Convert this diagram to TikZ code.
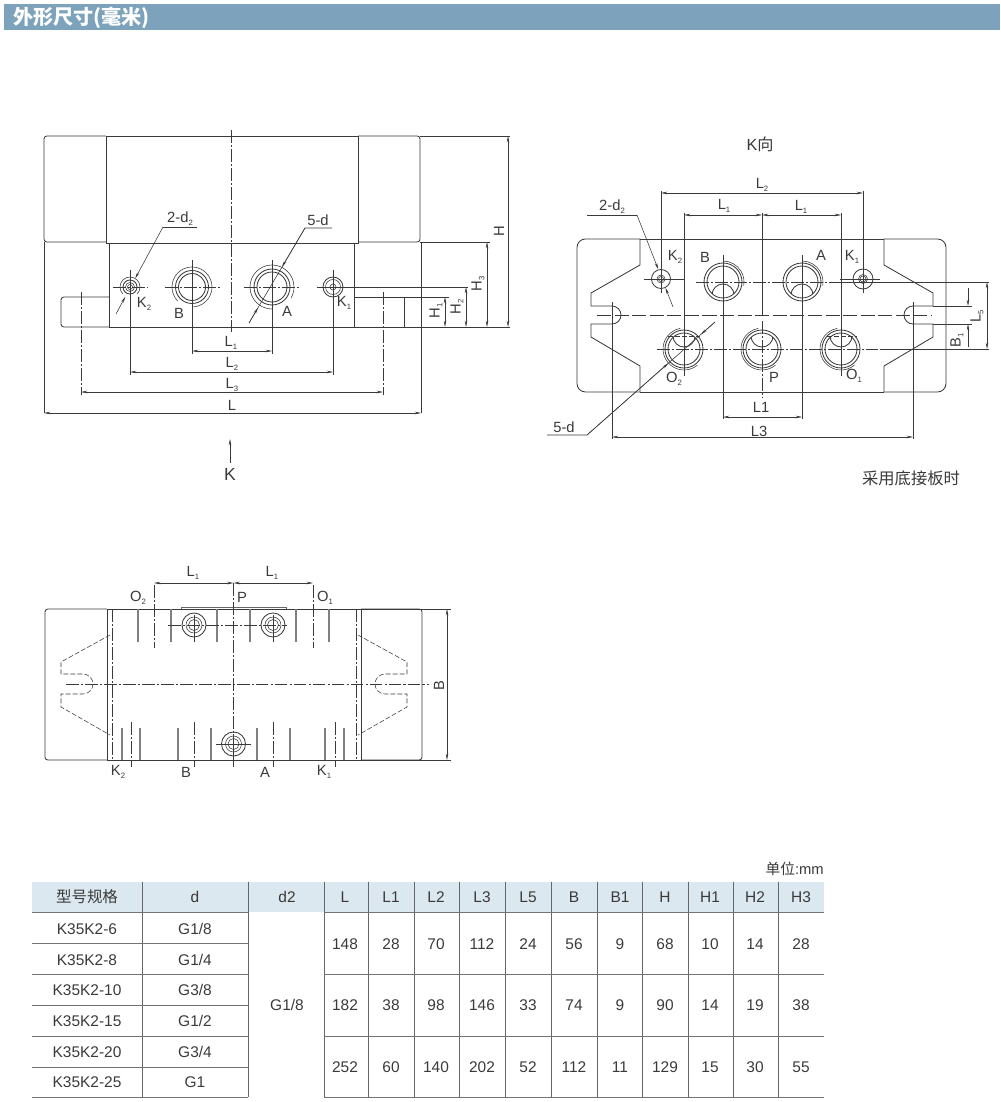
\documentclass[tikz,border=0pt]{standalone}
\usepackage{fontspec}
\setmainfont{Liberation Sans}
\newfontfamily\cjk{Noto Sans CJK SC}
\usetikzlibrary{arrows.meta, calc}
\definecolor{band}{HTML}{7CA3BB}
\definecolor{headfill}{HTML}{DCE8F0}
\definecolor{ink}{HTML}{3A3A3A}
\tikzset{line/.style={ink, line width=.6pt}}
\tikzset{heavy/.style={ink, line width=.7pt}}
\tikzset{thinline/.style={ink, line width=.4pt}}
\tikzset{center/.style={ink, line width=.4pt, dash pattern=on 9pt off 1.5pt on 1.5pt off 1.5pt}}
\tikzset{longdash/.style={ink, line width=.5pt, dash pattern=on 10pt off 2.5pt}}
\tikzset{hidden/.style={ink, line width=.4pt, dash pattern=on 3.5pt off 1.5pt}}
\tikzset{stick/.style={black!50, line width=1.6pt}}
\tikzset{dimline/.style={ink, line width=.4pt, {Stealth[length=4.5pt,width=1.8pt]}-{Stealth[length=4.5pt,width=1.8pt]}}}
\tikzset{pointer/.style={ink, line width=.4pt, -{Stealth[length=4.5pt,width=1.8pt]}}}
\tikzset{lab/.style={inner sep=0pt, font=\fontsize{10.5}{12}\selectfont, text=ink}}
\tikzset{cell/.style={inner sep=0pt, font=\fontsize{11}{13}\selectfont, text=ink}}
\newcommand{\lsub}[2]{#1\raisebox{-.35ex}{\fontsize{5.5}{7}\selectfont #2}}
\newcommand{\drawport}[6]{\draw[line] (#1,#2) circle[radius=#4]; \draw[line] (#1,#2) circle[radius=#4-3]; \draw[thinline] (#1,#2) ++(#5:#3) arc[start angle=#5, end angle=#6, radius=#3]}
\newcommand{\drawsmall}[5]{\draw[line] (#1,#2) circle[radius=#3]; \draw[thinline] (#1,#2) circle[radius=#4]; \draw[thinline] (#1,#2) circle[radius=#5]}
\newcommand{\capdown}[2]{\begin{scope} \clip (#1,#2) circle[radius=16]; \draw[line] (#1,#2+13) circle[radius=11]; \end{scope}}
\newcommand{\capup}[2]{\begin{scope} \clip (#1,#2) circle[radius=16]; \draw[line] (#1,#2-13) circle[radius=11]; \end{scope}}

\begin{document}
\begin{tikzpicture}[x=.025cm, y=-.025cm]
	\useasboundingbox (0,0) rectangle (1000,1102);

	% Title band
	\fill[band] (4,4) rectangle (1000,30);
	\node[anchor=west, inner sep=0pt, text=white, font=\cjk\bfseries\fontsize{14.3}{16}\selectfont] (title) at (13,18) {外形尺寸(毫米)};

	% Front view
	\draw[line, rounded corners=2pt] (106,136) -- (44,136) -- (44,242) -- (106,242);
	\draw[line, rounded corners=2pt] (358,136) -- (420,136) -- (420,242) -- (358,242);
	\draw[heavy] (106,136) rectangle (358,243);
	\draw[line] (44,242) -- (44,413);
	\draw[line] (420,242) -- (421,242) -- (421,413);
	\draw[line] (109,243) -- (109,327) -- (354,327) -- (354,243);
	\draw[line, rounded corners=2pt] (109,297) -- (61,297) -- (61,327) -- (109,327);
	\draw[line] (354,297) -- (404,297) -- (404,327);
	\draw[thinline] (404,297) -- (449,297);
	\draw[thinline] (354,327) -- (510,327);
	\draw[center] (231,130) -- (231,333);
	\draw[center] (81,292) -- (81,395);
	\draw[center] (383,292) -- (383,395);

	% Front ports
	\drawsmall{130}{287}{7}{4.5}{2.5};
	\draw[thinline] (130,287) ++(135:10) arc[start angle=135, end angle=405, radius=10];
	\drawport{192}{287}{20}{16.5}{135}{450};
	\drawport{272}{287}{22}{18}{90}{390};
	\drawsmall{333}{287}{10}{7.5}{3};
	\draw[center] (113,287) -- (147,287);
	\draw[center] (165,287) -- (220,287);
	\draw[center] (244,287) -- (299,287);
	\draw[thinline] (317,287) -- (468,287);
	\draw[thinline] (130,270) -- (130,375);
	\draw[thinline] (192,260) -- (192,354);
	\draw[thinline] (272,260) -- (272,354);
	\draw[thinline] (333,270) -- (333,375);

	% Front dimensions
	\draw[dimline] (192,351) -- (272,351);
	\draw[dimline] (130,372) -- (333,372);
	\draw[dimline] (81,392) -- (383,392);
	\draw[dimline] (44,413) -- (421,413);
	\draw[thinline] (420,136) -- (510,136);
	\draw[thinline] (421,242) -- (490,242);
	\draw[dimline] (508,136) -- (508,327);
	\draw[dimline] (487,242) -- (487,327);
	\draw[dimline] (466,287) -- (466,327);
	\draw[dimline] (445,297) -- (445,327);
	\node[lab] (fL1) at (231,343) {\lsub{L}{1}};
	\node[lab] (fL2) at (232,364) {\lsub{L}{2}};
	\node[lab] (fL3) at (232,385) {\lsub{L}{3}};
	\node[lab] (fL) at (232,405) {L};
	\node[lab, rotate=90] (fH) at (499,231) {H};
	\node[lab, rotate=90] (fH3) at (478,284) {\lsub{H}{3}};
	\node[lab, rotate=90] (fH2) at (457,307) {\lsub{H}{2}};
	\node[lab, rotate=90] (fH1) at (436,311) {\lsub{H}{1}};
	\node[lab] (fK2) at (144,304) {\lsub{K}{2}};
	\node[lab] (fB) at (179,313) {B};
	\node[lab] (fA) at (287,311) {A};
	\node[lab] (fK1) at (344,303) {\lsub{K}{1}};

	% Front leaders
	\coordinate (Da) at (163,227); \coordinate (Db) at (116,314);
	\coordinate (Ea) at (305,228); \coordinate (Eb) at (249,323);
	\draw[thinline] (197,227) -- (Da);
	\draw[pointer] (Da) -- ($(Da)!.59!(Db)$);
	\draw[pointer] (Db) -- ($(Da)!.8!(Db)$);
	\draw[thinline] (332,228) -- (Ea) -- (Eb);
	\draw[pointer] (Ea) -- ($(Ea)!.41!(Eb)$);
	\draw[pointer] (Eb) -- ($(Ea)!.84!(Eb)$);
	\node[lab] (fD2) at (180,219) {2-\lsub{d}{2}};
	\node[lab] (fD) at (318,220) {5-d};

	% K arrow
	\coordinate (Ka) at (230,463); \coordinate (Kb) at (230,439);
	\draw[pointer] (Ka) -- (Kb);
	\node[lab, font=\fontsize{12.5}{14}\selectfont] (kK) at (230,474) {K};

	% K view outline
	\node[lab, font=\fontsize{11.5}{13}\selectfont] (kHead) at (760,144) {K{\cjk 向}};
	\draw[line, rounded corners=6pt] (640,239) -- (577,239) -- (577,392) -- (640,392);
	\draw[line, rounded corners=6pt] (884,239) -- (946,239) -- (946,392) -- (884,392);
	\draw[heavy] (640,239) -- (884,239);
	\draw[heavy] (640,392) -- (884,392);
	\draw[line] (640,239) -- (640,265) -- (591,293) -- (591,306) -- (612,306) arc[start angle=-90, end angle=90, radius=9] -- (591,324) -- (591,337) -- (640,366) -- (640,392);
	\draw[line] (884,239) -- (884,265) -- (933,293) -- (933,306) -- (913,306) arc[start angle=270, end angle=90, radius=9] -- (933,324) -- (933,337) -- (884,366) -- (884,392);

	% K view ports
	\drawsmall{661}{279}{9.5}{4}{2.5};
	\drawsmall{863}{279}{10}{4.5}{3};
	\drawport{723}{282}{21}{19}{270}{370};
	\drawport{802}{282}{21}{19}{270}{370};
	\drawport{684}{349}{21}{19}{50}{260};
	\drawport{762}{349}{21}{19}{50}{260};
	\drawport{841}{349}{21}{19}{50}{260};
	\capdown{723}{282};
	\capdown{802}{282};
	\capup{684}{349};
	\capup{762}{349};
	\capup{841}{349};
	\draw[hidden] (668,336) -- (700,336);
	\draw[hidden] (827,336) -- (857,336);

	% K view axes
	\draw[longdash] (597,315) -- (932,315);
	\draw[center] (696,282) -- (835,282);
	\draw[thinline] (835,282) -- (989,282);
	\draw[center] (657,349) -- (880,349);
	\draw[thinline] (880,349) -- (989,349);
	\draw[thinline] (644,279) -- (684,279);
	\draw[thinline] (840,279) -- (880,279);
	\draw[thinline] (661,191) -- (661,293);
	\draw[thinline] (863,191) -- (863,293);
	\draw[thinline] (684,213) -- (684,376);
	\draw[thinline] (841,213) -- (841,376);
	\draw[thinline] (762,213) -- (762,315);
	\draw[center] (762,321) -- (762,397);
	\draw[thinline] (723,255) -- (723,419);
	\draw[thinline] (802,255) -- (802,419);
	\draw[thinline] (612,302) -- (612,439);
	\draw[thinline] (913,302) -- (913,439);
	\draw[thinline] (933,306) -- (972,306);
	\draw[thinline] (933,324) -- (972,324);

	% K view dimensions
	\draw[dimline] (661,193) -- (863,193);
	\draw[dimline] (684,215) -- (762,215);
	\draw[dimline] (762,215) -- (841,215);
	\draw[dimline] (723,417) -- (802,417);
	\draw[dimline] (612,437) -- (913,437);
	\draw[dimline] (987,282) -- (987,349);
	\draw[pointer] (968,288) -- (968,306);
	\draw[pointer] (968,347) -- (968,324);
	\node[lab] (kL2) at (762,185) {\lsub{L}{2}};
	\node[lab] (kL1a) at (724,206) {\lsub{L}{1}};
	\node[lab] (kL1b) at (801,207) {\lsub{L}{1}};
	\node[lab] (kL1) at (761,407) {L1};
	\node[lab] (kL3) at (759,431) {L3};
	\node[lab, rotate=90] (kL5) at (977,316) {\lsub{L}{5}};
	\node[lab, rotate=90] (kB1) at (957,340) {\lsub{B}{1}};
	\node[lab] (kK2) at (675,257) {\lsub{K}{2}};
	\node[lab] (kB) at (705,257) {B};
	\node[lab] (kA) at (821,255) {A};
	\node[lab] (kK1) at (852,257) {\lsub{K}{1}};
	\node[lab] (kO2) at (674,379) {\lsub{O}{2}};
	\node[lab] (kP) at (774,377) {P};
	\node[lab] (kO1) at (854,376) {\lsub{O}{1}};
	\node[lab, font=\fontsize{11.6}{13}\selectfont] (kPlate) at (911,478) {\cjk 采用底接板时};

	% K view leaders
	\coordinate (Ga) at (637,215); \coordinate (Gb) at (673,307);
	\coordinate (Ha) at (587,435); \coordinate (Hb) at (715,322);
	\draw[thinline] (587,215) -- (Ga);
	\draw[pointer] (Ga) -- ($(Ga)!.59!(Gb)$);
	\draw[pointer] (Gb) -- ($(Ga)!.79!(Gb)$);
	\draw[thinline] (547,435) -- (Ha) -- (Hb);
	\draw[pointer] (Ha) -- ($(Ha)!.635!(Hb)$);
	\draw[pointer] (Hb) -- ($(Ha)!.89!(Hb)$);
	\node[lab] (kD2) at (612,207) {2-\lsub{d}{2}};
	\node[lab] (kD) at (564,427) {5-d};

	% Bottom view
	\draw[line, rounded corners=2pt] (107,609) -- (45,609) -- (45,760) -- (107,760);
	\draw[line, rounded corners=2pt] (361,609) -- (422,609) -- (422,760) -- (361,760);
	\draw[thinline] (361,609) -- (451,609);
	\draw[thinline] (361,760) -- (451,760);
	\draw[thinline] (107,609) -- (361,609);
	\foreach \xa/\xb in {137/171,217/250,296/329} \draw[heavy] (\xa,609) -- (\xb,609);
	\draw[heavy] (107,760) -- (361,760);
	\draw[heavy] (107,609) -- (107,760);
	\draw[heavy] (361,609) -- (361,760);
	\draw[line, black!60] (181,609) -- (181,607) -- (286,607) -- (286,609);
	\draw[center] (112,609) -- (112,760);
	\draw[center] (356,609) -- (356,760);

	% Bottom sticks
	\foreach \x in {138,171,217,250,296,329} \draw[stick] (\x,609) -- (\x,642);
	\foreach \x in {122,140,178,211,257,290,325,344} \draw[stick] (\x,728) -- (\x,760);
	\foreach \x in {131,194,273,335} \draw[center] (\x,722) -- (\x,767);
	\draw[center] (154,585) -- (154,648);
	\draw[center] (313,585) -- (313,648);
	\draw[center] (233.5,583) -- (233.5,768);
	\draw[center] (66,684) -- (429,684);
	\draw[center] (168,625) -- (287,625);

	% Bottom ports
	\drawsmall{194}{625}{12}{8}{5.5};
	\drawsmall{273}{625}{12}{8}{5.5};
	\drawsmall{233.5}{744}{12}{8}{5.5};
	\draw[thinline] (194,615) -- (194,642);
	\draw[thinline] (273,615) -- (273,642);
	\draw[thinline] (216,744) -- (251,744);
	\draw[thinline] (233.5,734) -- (233.5,754);

	% Bottom hidden outline
	\draw[hidden] (110,635) -- (61,662) -- (61,674) -- (83,674) arc[start angle=-90, end angle=90, radius=10] -- (61,694) -- (61,707) -- (110,735);
	\draw[hidden] (358,635) -- (407,662) -- (407,674) -- (385,674) arc[start angle=270, end angle=90, radius=10] -- (407,694) -- (407,707) -- (358,735);

	% Bottom dimensions
	\draw[dimline] (154,583) -- (233.5,583);
	\draw[dimline] (233.5,583) -- (313,583);
	\draw[dimline] (447,609) -- (447,760);
	\node[lab] (bL1a) at (193,573) {\lsub{L}{1}};
	\node[lab] (bL1b) at (272,573) {\lsub{L}{1}};
	\node[lab] (bO2) at (138,598) {\lsub{O}{2}};
	\node[lab] (bP) at (242,597) {P};
	\node[lab] (bO1) at (325,598) {\lsub{O}{1}};
	\node[lab] (bK2) at (118,772) {\lsub{K}{2}};
	\node[lab] (bB) at (186,772) {B};
	\node[lab] (bA) at (265,772) {A};
	\node[lab] (bK1) at (324,772) {\lsub{K}{1}};
	\node[lab, rotate=90] (bH) at (439,686) {B};

	% Table
	\node[cell, anchor=east, font=\fontsize{10.5}{12}\selectfont] (unit) at (824,869) {{\cjk 单位}:mm};
	\fill[headfill] (32,882) rectangle (824,912);
	\foreach \x in {142,248,324,368,414,459,505,551,597,642,688,733,778} \draw[line, black!60] (\x,882) -- (\x,1097);
	\foreach \y in {912,974,1036,1097} \draw[heavy, black!55] (32,\y) -- (248,\y) (324,\y) -- (824,\y);
	\foreach \y in {943,1005,1067} \draw[line, black!55] (32,\y) -- (248,\y);
	\foreach \x/\t [count=\i] in {195/d,287/d2,345/L,391/L1,436/L2,482/L3,528/L5,574/B,620/B1,665/H,710/H1,755/H2,801/H3}
		\node[cell] (head\i) at (\x,897) {\t};
	\node[cell] (head0) at (87,897) {\cjk 型号规格};
	\foreach \y/\m/\d [count=\i] in {929/6/G1\slash 8,960/8/G1\slash 4,990/10/G3\slash 8,1021/15/G1\slash 2,1052/20/G3\slash 4,1082/25/G1} {
		\node[cell] (model\i) at (87,\y) {K35K2-\m};
		\node[cell] (bore\i) at (195,\y) {\d};
	}
	\node[cell] (portsize) at (287,1005) {G1/8};
	\foreach \y/\row [count=\j] in {944/{148,28,70,112,24,56,9,68,10,14,28},1005/{182,38,98,146,33,74,9,90,14,19,38},1067/{252,60,140,202,52,112,11,129,15,30,55}}
		\foreach \v [count=\i] in \row {
			\pgfmathsetmacro{\cx}{{345,391,436,482,528,574,620,665,710,755,801}[\i-1]}
			\node[cell] (val\j-\i) at (\cx,\y) {\v};
		}
\end{tikzpicture}
\end{document}
